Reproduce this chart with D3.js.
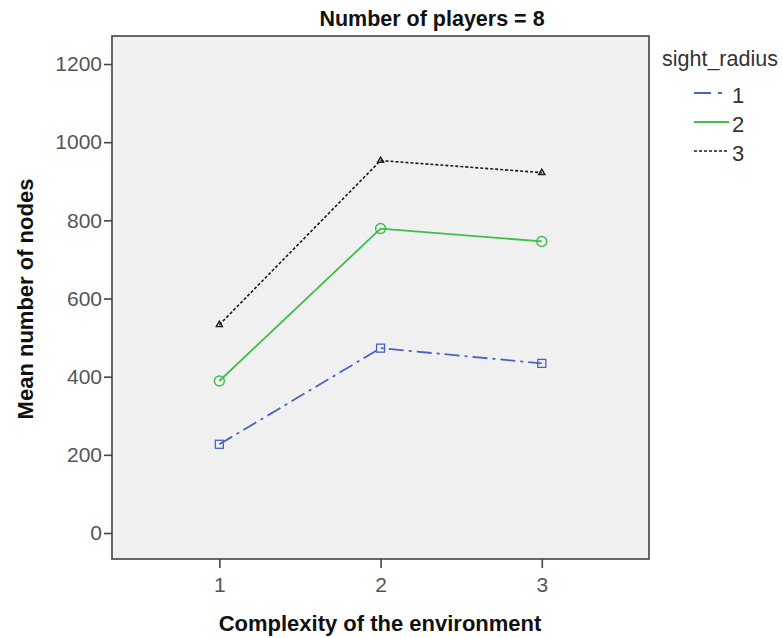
<!DOCTYPE html>
<html><head><meta charset="utf-8">
<script src="https://cdn.jsdelivr.net/npm/d3@7/dist/d3.min.js"></script>
<style>body{margin:0;background:#fff;font-family:"Liberation Sans",Arial,sans-serif;}</style>
</head><body>
<svg id="c" width="782" height="638"></svg>
<script>
const categories = [1, 2, 3];
const sightRadius = ["1", "2", "3"];
const series1 = [227, 473, 434];
const series2 = [389, 779, 746];
const series3 = [533, 953, 922];
const yTicks = [0, 200, 400, 600, 800, 1000, 1200];
const title = "Number of players = 8";
const xTitle = "Complexity of the environment";
const yTitle = "Mean number of nodes";
const legendTitle = "sight_radius";

const FONT = "Liberation Sans, Arial, sans-serif";
const svg = d3.select("#c");
const L = 112, R = 649, T = 36, B = 559;
const x = d3.scaleLinear().domain([0.334, 3.665]).range([L, R]);
const y = d3.scaleLinear().domain([-66.5, 1271.7]).range([B, T]);

svg.append("rect").attr("x", L).attr("y", T).attr("width", R - L).attr("height", B - T)
  .attr("fill", "#f0f0f0").attr("stroke", "#444").attr("stroke-width", 1.6);

const yAxis = svg.append("g").attr("transform", `translate(${L},0)`)
  .call(d3.axisLeft(y).tickValues(yTicks).tickFormat(d3.format("d")).tickSize(8).tickSizeOuter(0).tickPadding(2));
yAxis.select(".domain").remove();
yAxis.selectAll("line").attr("stroke", "#444").attr("stroke-width", 1.6);
yAxis.selectAll("text").attr("font-size", 21).attr("fill", "#555").attr("font-family", FONT);

const xAxis = svg.append("g").attr("transform", `translate(0,${B})`)
  .call(d3.axisBottom(x).tickValues(categories).tickFormat(d3.format("d")).tickSize(9).tickSizeOuter(0).tickPadding(9));
xAxis.select(".domain").remove();
xAxis.selectAll("line").attr("stroke", "#444").attr("stroke-width", 1.6);
xAxis.selectAll("text").attr("font-size", 21).attr("fill", "#555").attr("font-family", FONT);

svg.append("text").attr("x", 432).attr("y", 26).attr("text-anchor", "middle")
  .attr("font-size", 21.5).attr("font-weight", "bold").attr("fill", "#111").attr("font-family", FONT).text(title);
svg.append("text").attr("x", 380).attr("y", 631).attr("text-anchor", "middle")
  .attr("font-size", 22).attr("font-weight", "bold").attr("fill", "#111").attr("font-family", FONT).text(xTitle);
svg.append("text").attr("transform", `translate(33,299) rotate(-90)`).attr("text-anchor", "middle")
  .attr("font-size", 22).attr("font-weight", "bold").attr("fill", "#111").attr("font-family", FONT).text(yTitle);

const styles = [
  {vals: series1, color: "#4a62c0", dash: "15,5,3,5", marker: "square", w: 1.8},
  {vals: series2, color: "#3dbf4a", dash: null, marker: "circle", w: 1.8},
  {vals: series3, color: "#1a1a1a", dash: "3,2", marker: "triangle", w: 1.6}
];
const line = d3.line().x((d, i) => x(categories[i])).y(d => y(d));
styles.forEach(s => {
  const p = svg.append("path").datum(s.vals).attr("d", line).attr("fill", "none")
    .attr("stroke", s.color).attr("stroke-width", s.w);
  if (s.dash) p.attr("stroke-dasharray", s.dash);
  s.vals.forEach((v, i) => {
    const cx = x(categories[i]), cy = y(v);
    if (s.marker === "square") {
      svg.append("rect").attr("x", cx - 4).attr("y", cy - 4).attr("width", 8).attr("height", 8)
        .attr("fill", "none").attr("stroke", s.color).attr("stroke-width", 1.3);
    } else if (s.marker === "circle") {
      svg.append("circle").attr("cx", cx).attr("cy", cy).attr("r", 5)
        .attr("fill", "none").attr("stroke", s.color).attr("stroke-width", 1.4);
    } else {
      svg.append("path").attr("d", d3.symbol().type(d3.symbolTriangle).size(16)()).attr("transform", `translate(${cx},${cy})`)
        .attr("fill", "none").attr("stroke", s.color).attr("stroke-width", 1.4);
    }
  });
});

svg.append("text").attr("x", 662).attr("y", 66).attr("font-size", 21.5).attr("fill", "#333").attr("font-family", FONT).text(legendTitle);
sightRadius.forEach((lab, i) => {
  const ly = 93 + i * 29;
  const s = styles[i];
  const l = svg.append("line").attr("x1", 694).attr("x2", 729).attr("y1", ly).attr("y2", ly)
    .attr("stroke", s.color).attr("stroke-width", s.w);
  if (s.dash) l.attr("stroke-dasharray", i === 0 ? "17,7,4,20" : s.dash);
  svg.append("text").attr("x", 732).attr("y", ly + 10).attr("font-size", 22).attr("fill", "#333").attr("font-family", FONT).text(lab);
});
</script>
</body></html>
